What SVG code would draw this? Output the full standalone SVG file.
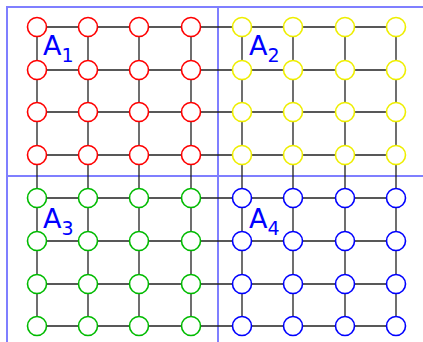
<svg xmlns="http://www.w3.org/2000/svg" width="423" height="342" viewBox="0 0 423 342">
<style>
.e{stroke:#222;stroke-width:1.3;fill:none}
.n{fill:#fff;stroke-width:1.6}
.r{stroke:#f00}.y{stroke:#ee0}.g{stroke:#0b0}.b{stroke:#00f}
.fr{stroke:#7f7fff;stroke-width:2;fill:none}
.lab{font-family:"DejaVu Sans",sans-serif;fill:#00f;font-size:27px}
.sub{font-size:19px}
</style>
<rect width="423" height="342" fill="#fff"/>
<g id="frame">
<path class="fr" d="M7,342V7H423M218,7V342M7,176H423"/>
</g>
<g id="connectors">
<path class="e" d="M37,27H396M37,70H396M37,112H396M37,155H396M37,198H396M37,241H396M37,284H396M37,326H396M37,27V326M88,27V326M139,27V326M191,27V326M242,27V326M293,27V326M345,27V326M396,27V326"/>
</g>
<g id="n_r_0_0"><circle class="n r" cx="37" cy="27" r="9.5"/></g>
<g id="n_r_0_1"><circle class="n r" cx="88" cy="27" r="9.5"/></g>
<g id="n_r_0_2"><circle class="n r" cx="139" cy="27" r="9.5"/></g>
<g id="n_r_0_3"><circle class="n r" cx="191" cy="27" r="9.5"/></g>
<g id="n_r_1_0"><circle class="n r" cx="37" cy="70" r="9.5"/></g>
<g id="n_r_1_1"><circle class="n r" cx="88" cy="70" r="9.5"/></g>
<g id="n_r_1_2"><circle class="n r" cx="139" cy="70" r="9.5"/></g>
<g id="n_r_1_3"><circle class="n r" cx="191" cy="70" r="9.5"/></g>
<g id="n_r_2_0"><circle class="n r" cx="37" cy="112" r="9.5"/></g>
<g id="n_r_2_1"><circle class="n r" cx="88" cy="112" r="9.5"/></g>
<g id="n_r_2_2"><circle class="n r" cx="139" cy="112" r="9.5"/></g>
<g id="n_r_2_3"><circle class="n r" cx="191" cy="112" r="9.5"/></g>
<g id="n_r_3_0"><circle class="n r" cx="37" cy="155" r="9.5"/></g>
<g id="n_r_3_1"><circle class="n r" cx="88" cy="155" r="9.5"/></g>
<g id="n_r_3_2"><circle class="n r" cx="139" cy="155" r="9.5"/></g>
<g id="n_r_3_3"><circle class="n r" cx="191" cy="155" r="9.5"/></g>
<g id="n_y_0_0"><circle class="n y" cx="242" cy="27" r="9.5"/></g>
<g id="n_y_0_1"><circle class="n y" cx="293" cy="27" r="9.5"/></g>
<g id="n_y_0_2"><circle class="n y" cx="345" cy="27" r="9.5"/></g>
<g id="n_y_0_3"><circle class="n y" cx="396" cy="27" r="9.5"/></g>
<g id="n_y_1_0"><circle class="n y" cx="242" cy="70" r="9.5"/></g>
<g id="n_y_1_1"><circle class="n y" cx="293" cy="70" r="9.5"/></g>
<g id="n_y_1_2"><circle class="n y" cx="345" cy="70" r="9.5"/></g>
<g id="n_y_1_3"><circle class="n y" cx="396" cy="70" r="9.5"/></g>
<g id="n_y_2_0"><circle class="n y" cx="242" cy="112" r="9.5"/></g>
<g id="n_y_2_1"><circle class="n y" cx="293" cy="112" r="9.5"/></g>
<g id="n_y_2_2"><circle class="n y" cx="345" cy="112" r="9.5"/></g>
<g id="n_y_2_3"><circle class="n y" cx="396" cy="112" r="9.5"/></g>
<g id="n_y_3_0"><circle class="n y" cx="242" cy="155" r="9.5"/></g>
<g id="n_y_3_1"><circle class="n y" cx="293" cy="155" r="9.5"/></g>
<g id="n_y_3_2"><circle class="n y" cx="345" cy="155" r="9.5"/></g>
<g id="n_y_3_3"><circle class="n y" cx="396" cy="155" r="9.5"/></g>
<g id="n_g_0_0"><circle class="n g" cx="37" cy="198" r="9.5"/></g>
<g id="n_g_0_1"><circle class="n g" cx="88" cy="198" r="9.5"/></g>
<g id="n_g_0_2"><circle class="n g" cx="139" cy="198" r="9.5"/></g>
<g id="n_g_0_3"><circle class="n g" cx="191" cy="198" r="9.5"/></g>
<g id="n_g_1_0"><circle class="n g" cx="37" cy="241" r="9.5"/></g>
<g id="n_g_1_1"><circle class="n g" cx="88" cy="241" r="9.5"/></g>
<g id="n_g_1_2"><circle class="n g" cx="139" cy="241" r="9.5"/></g>
<g id="n_g_1_3"><circle class="n g" cx="191" cy="241" r="9.5"/></g>
<g id="n_g_2_0"><circle class="n g" cx="37" cy="284" r="9.5"/></g>
<g id="n_g_2_1"><circle class="n g" cx="88" cy="284" r="9.5"/></g>
<g id="n_g_2_2"><circle class="n g" cx="139" cy="284" r="9.5"/></g>
<g id="n_g_2_3"><circle class="n g" cx="191" cy="284" r="9.5"/></g>
<g id="n_g_3_0"><circle class="n g" cx="37" cy="326" r="9.5"/></g>
<g id="n_g_3_1"><circle class="n g" cx="88" cy="326" r="9.5"/></g>
<g id="n_g_3_2"><circle class="n g" cx="139" cy="326" r="9.5"/></g>
<g id="n_g_3_3"><circle class="n g" cx="191" cy="326" r="9.5"/></g>
<g id="n_b_0_0"><circle class="n b" cx="242" cy="198" r="9.5"/></g>
<g id="n_b_0_1"><circle class="n b" cx="293" cy="198" r="9.5"/></g>
<g id="n_b_0_2"><circle class="n b" cx="345" cy="198" r="9.5"/></g>
<g id="n_b_0_3"><circle class="n b" cx="396" cy="198" r="9.5"/></g>
<g id="n_b_1_0"><circle class="n b" cx="242" cy="241" r="9.5"/></g>
<g id="n_b_1_1"><circle class="n b" cx="293" cy="241" r="9.5"/></g>
<g id="n_b_1_2"><circle class="n b" cx="345" cy="241" r="9.5"/></g>
<g id="n_b_1_3"><circle class="n b" cx="396" cy="241" r="9.5"/></g>
<g id="n_b_2_0"><circle class="n b" cx="242" cy="284" r="9.5"/></g>
<g id="n_b_2_1"><circle class="n b" cx="293" cy="284" r="9.5"/></g>
<g id="n_b_2_2"><circle class="n b" cx="345" cy="284" r="9.5"/></g>
<g id="n_b_2_3"><circle class="n b" cx="396" cy="284" r="9.5"/></g>
<g id="n_b_3_0"><circle class="n b" cx="242" cy="326" r="9.5"/></g>
<g id="n_b_3_1"><circle class="n b" cx="293" cy="326" r="9.5"/></g>
<g id="n_b_3_2"><circle class="n b" cx="345" cy="326" r="9.5"/></g>
<g id="n_b_3_3"><circle class="n b" cx="396" cy="326" r="9.5"/></g>
<g id="labels">
<text class="lab" x="43" y="55">A<tspan class="sub" dy="7">1</tspan></text>
<text class="lab" x="249" y="55">A<tspan class="sub" dy="7">2</tspan></text>
<text class="lab" x="43" y="228">A<tspan class="sub" dy="7">3</tspan></text>
<text class="lab" x="249" y="228">A<tspan class="sub" dy="7">4</tspan></text>
</g>
</svg>
